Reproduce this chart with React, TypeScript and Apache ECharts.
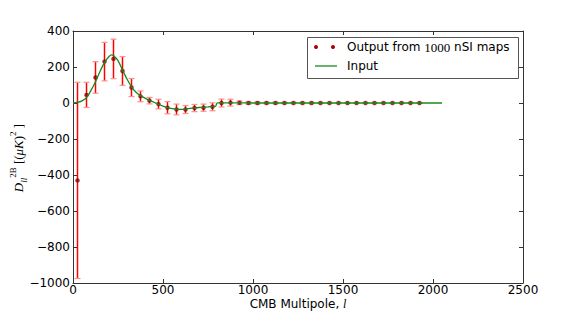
import React, { useEffect, useRef } from "react";
import * as echarts from "echarts";

// Input (theory) curve
const LINE_L = [0, 25, 50, 75, 100, 125, 150, 175, 200, 215, 225, 250, 275, 300, 325, 350, 375, 400, 425, 450, 475, 500, 525, 550, 575, 600, 625, 650, 675, 700, 725, 750, 780, 792, 802, 850, 900, 1000, 1500, 2050];
const LINE_V = [0, 3, 12, 30, 70, 118, 175, 224, 258, 267, 264, 235, 183, 133, 90, 60, 41, 27, 15, 4, -7, -17, -26, -31, -34, -35, -34, -30, -27, -25, -24, -22, -19, -18, 1, 1, 0.5, 0, 0, 0];

// Output points with error bars
const POINT_L = [25, 75, 125, 175, 225, 275, 325, 375, 425, 475, 525, 575, 625, 675, 725, 775, 825, 875, 925, 975, 1025, 1075, 1125, 1175, 1225, 1275, 1325, 1375, 1425, 1475, 1525, 1575, 1625, 1675, 1725, 1775, 1825, 1875, 1925];
const POINT_V = [-430, 45, 142, 230, 245, 178, 86, 37, 13, -6, -26, -36, -36, -28, -26, -21, 0, 2, 1, 0, 0, 0, 0, 0, 0, 0, 0, 0, 0, 0, 0, 0, 0, 0, 0, 0, 0, 0, 0];
const POINT_ERR = [545, 70, 88, 107, 110, 80, 50, 30, 18, 27, 34, 30, 22, 20, 20, 22, 22, 19, 10, 7, 6, 5, 5, 4, 4, 4, 4, 3, 3, 3, 3, 3, 3, 3, 3, 3, 3, 3, 3];

const X_TICKS = [0, 500, 1000, 1500, 2000, 2500];
const Y_TICKS = [-1000, -800, -600, -400, -200, 0, 200, 400];

const SANS = "DejaVu Sans";
const SERIF = "Liberation Serif";

export default function App() {
  const ref = useRef<HTMLDivElement>(null);
  useEffect(() => {
    if (!ref.current) return;
    const chart = echarts.init(ref.current, null, { renderer: "svg" });
    const fmtNum = (v: number) => (v < 0 ? "\u2212" + Math.abs(v) : String(v));
    const errData = POINT_L.map((l, i) => [l, POINT_V[i] - POINT_ERR[i], POINT_V[i] + POINT_ERR[i]]);
    const ptData = POINT_L.map((l, i) => [l, POINT_V[i]]);
    const lineData = LINE_L.map((l, i) => [l, LINE_V[i]]);
    const axisCommon = {
      axisLine: { show: true, onZero: false, lineStyle: { color: "#333", width: 1 } },
      axisTick: { show: true, inside: true, length: 4, lineStyle: { color: "#333" } },
      splitLine: { show: false },
    };
    chart.setOption({
      animation: false,
      backgroundColor: "#fff",
      grid: { left: 73, top: 31, width: 450, height: 252, containLabel: false },
      xAxis: [
        {
          type: "value", min: X_TICKS[0], max: X_TICKS[X_TICKS.length - 1], interval: 500,
          ...axisCommon,
          axisLabel: { color: "#000", fontFamily: SANS, fontSize: 12, margin: 1, lineHeight: 12, formatter: fmtNum },
        },
        {
          type: "value", position: "top", min: X_TICKS[0], max: X_TICKS[X_TICKS.length - 1], interval: 500,
          ...axisCommon, axisLabel: { show: false },
        },
      ],
      yAxis: [
        {
          type: "value", min: Y_TICKS[0], max: Y_TICKS[Y_TICKS.length - 1], interval: 200,
          ...axisCommon,
          axisLabel: { color: "#000", fontFamily: SANS, fontSize: 12, margin: 3, formatter: fmtNum },
        },
        {
          type: "value", position: "right", min: Y_TICKS[0], max: Y_TICKS[Y_TICKS.length - 1], interval: 200,
          ...axisCommon, axisLabel: { show: false },
        },
      ],
      series: [
        {
          type: "custom",
          name: "err",
          data: errData,
          encode: { x: 0, y: [1, 2] },
          z: 2,
          renderItem: (params: any, api: any) => {
            const x = api.value(0);
            const lo = api.coord([x, api.value(1)]);
            const hi = api.coord([x, api.value(2)]);
            const cap = "#ff8f8f";
            return {
              type: "group",
              children: [
                { type: "line", shape: { x1: lo[0], y1: lo[1], x2: hi[0], y2: hi[1] }, style: { stroke: "#ff0000", lineWidth: 1.5 } },
                { type: "line", shape: { x1: lo[0] - 3, y1: lo[1], x2: lo[0] + 3, y2: lo[1] }, style: { stroke: cap, lineWidth: 1.2 } },
                { type: "line", shape: { x1: hi[0] - 3, y1: hi[1], x2: hi[0] + 3, y2: hi[1] }, style: { stroke: cap, lineWidth: 1.2 } },
              ],
            };
          },
        },
        {
          type: "scatter",
          name: "Output",
          data: ptData,
          symbol: "circle",
          symbolSize: 4.5,
          itemStyle: { color: "#8b0000" },
          z: 3,
        },
        {
          type: "line",
          name: "Input",
          data: lineData,
          smooth: 0.3,
          showSymbol: false,
          symbol: "none",
          lineStyle: { color: "#1a8a1a", width: 1.3 },
          z: 4,
        },
      ],
      graphic: [
        // legend
        { type: "rect", shape: { x: 307.5, y: 37.5, width: 211, height: 41 }, style: { fill: "#fff", stroke: "#555", lineWidth: 1 }, z: 10 },
        { type: "circle", shape: { cx: 316, cy: 47, r: 2 }, style: { fill: "#b00000" }, z: 11 },
        { type: "circle", shape: { cx: 333, cy: 47, r: 2 }, style: { fill: "#b00000" }, z: 11 },
        { type: "line", shape: { x1: 315, y1: 66, x2: 337, y2: 66 }, style: { stroke: "#1a8a1a", lineWidth: 1.3 }, z: 11 },
        {
          type: "text", x: 347, y: 47, z: 11,
          style: {
            text: "{s|Output from }{m|1000}{s| nSI maps}",
            verticalAlign: "middle",
            rich: {
              s: { fontFamily: SANS, fontSize: 12, fill: "#000" },
              m: { fontFamily: SERIF, fontSize: 13, fill: "#000" },
            },
          },
        },
        { type: "text", x: 347, y: 66, z: 11, style: { text: "Input", fontFamily: SANS, fontSize: 12, fill: "#000", verticalAlign: "middle" } },
        // x axis name
        {
          type: "text", x: 298, y: 304, z: 11,
          style: {
            text: "{s|CMB Multipole, }{i|l}",
            align: "center", verticalAlign: "middle",
            rich: {
              s: { fontFamily: SANS, fontSize: 12, fill: "#000", lineHeight: 12 },
              i: { fontFamily: SERIF, fontStyle: "italic", fontSize: 12, fill: "#000", lineHeight: 12 },
            },
          },
        },
        // y axis name
        {
          type: "text", x: 18, y: 158, rotation: Math.PI / 2, z: 11,
          style: {
            text: "{d|D}{sub|ll}{sup|2B}{n| [(}{d|\u03bcK}{n|)}{sup|2}{n| ]}",
            align: "center", verticalAlign: "middle",
            rich: {
              d: { fontFamily: SERIF, fontStyle: "italic", fontSize: 13, fill: "#000", lineHeight: 20, verticalAlign: "middle" },
              n: { fontFamily: SERIF, fontSize: 13, fill: "#000", lineHeight: 20, verticalAlign: "middle" },
              sub: { fontFamily: SERIF, fontStyle: "italic", fontSize: 9, fill: "#000", lineHeight: 20, verticalAlign: "bottom" },
              sup: { fontFamily: SERIF, fontSize: 9, fill: "#000", lineHeight: 20, verticalAlign: "top" },
            },
          },
        },
      ],
    });
    return () => chart.dispose();
  }, []);
  return <div ref={ref} style={{ position: "fixed", left: 0, top: 0, width: 581, height: 314 }} />;
}
